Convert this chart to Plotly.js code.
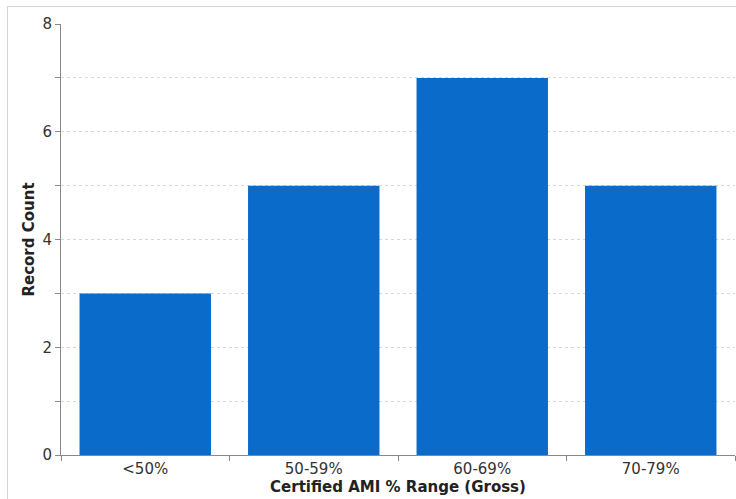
<!DOCTYPE html>
<html>
<head>
<meta charset="utf-8">
<script src="https://cdn.plot.ly/plotly-3.0.1.min.js"></script>
<style>
html,body{margin:0;padding:0;background:#fff;}
#wrap{position:relative;width:736px;height:499px;}
#chart{width:736px;height:499px;}
#frame{position:absolute;left:7px;top:6px;width:740px;height:500px;border:1px solid #d4d4d4;pointer-events:none;}
</style>
</head>
<body>
<div id="wrap">
<div id="chart"></div>
<div id="frame"></div>
</div>
<script>
const categories = ['<50%', '50-59%', '60-69%', '70-79%'];
const counts = [3, 5, 7, 5];
const yTickVals = [0, 1, 2, 3, 4, 5, 6, 7, 8];
const yTickText = ['0', '', '2', '', '4', '', '6', '', '8'];

const trace = {
  type: 'bar',
  x: categories,
  y: counts,
  marker: {color: '#0a6bcb', line: {width: 0}},
  width: 0.78,
  hoverinfo: 'x+y'
};

const layout = {
  width: 736, height: 499,
  margin: {l: 61, r: 1, t: 24, b: 44},
  paper_bgcolor: 'rgba(0,0,0,0)',
  plot_bgcolor: '#fff',
  font: {family: 'DejaVu Sans, sans-serif', size: 15, color: '#222'},
  showlegend: false,
  xaxis: {
    type: 'category',
    showline: true, linecolor: '#888', linewidth: 1,
    ticks: 'outside', tickson: 'boundaries', ticklen: 5, tickcolor: '#888',
    showgrid: false,
    tickfont: {size: 15, color: '#333'},
    title: {text: 'Certified AMI % Range (Gross)', font: {size: 15, color: '#222', weight: 'bold'}, standoff: 4},
    automargin: false
  },
  yaxis: {
    range: [0, 8],
    tickmode: 'array', tickvals: yTickVals, ticktext: yTickText,
    showline: true, linecolor: '#888', linewidth: 1,
    ticks: 'outside', ticklen: 5, tickcolor: '#888',
    showgrid: true, gridcolor: '#d8d8d8', griddash: 'dot', gridwidth: 1,
    zeroline: false,
    tickfont: {size: 15, color: '#333'},
    title: {text: 'Record Count', font: {size: 15, color: '#222', weight: 'bold'}, standoff: 4},
    automargin: false
  },
  bargap: 0.22
};

Plotly.newPlot('chart', [trace], layout, {displayModeBar: false, staticPlot: true});
</script>
</body>
</html>
